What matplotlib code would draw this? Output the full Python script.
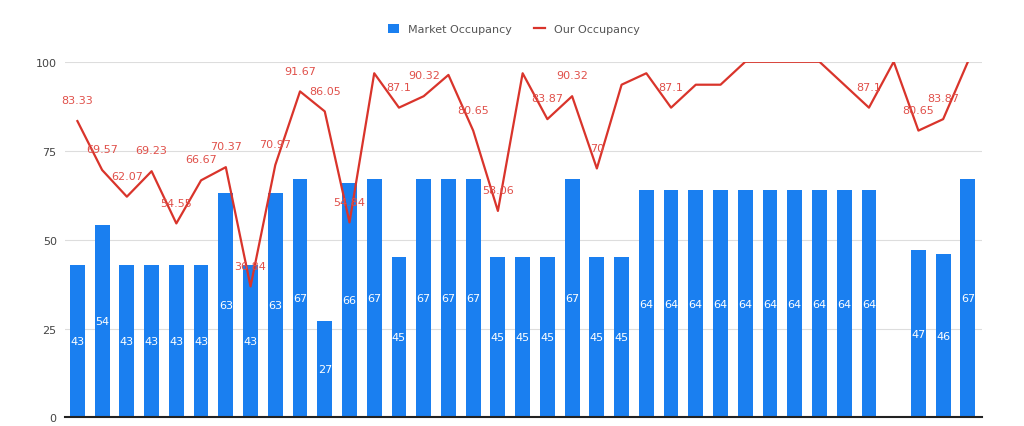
import numpy as np
import matplotlib
matplotlib.use('Agg')
import matplotlib.pyplot as plt

# data (37 periods, one without market data)
market = [43, 54, 43, 43, 43, 43, 63, 43, 63, 67, 27, 66, 67, 45, 67, 67, 67,
          45, 45, 45, 67, 45, 45, 64, 64, 64, 64, 64, 64, 64, 64, 64, 64,
          np.nan, 47, 46, 67]
ours = [83.33, 69.57, 62.07, 69.23, 54.55, 66.67, 70.37, 36.84, 70.97, 91.67,
        86.05, 54.84, 96.77, 87.1, 90.32, 96.3, 80.65, 58.06, 96.77, 83.87,
        90.32, 70, 93.55, 96.77, 87.1, 93.55, 93.55, 100, 100, 100, 100, 93.55,
        87.1, 100, 80.65, 83.87, 100]
# which line values carry a visible label
ours_labelled = [1, 1, 1, 1, 1, 1, 1, 1, 1, 1, 1, 1, 0, 1, 1, 0, 1, 1, 0, 1,
                 1, 1, 0, 0, 1, 0, 0, 0, 0, 0, 0, 0, 1, 0, 1, 1, 0]

blue = '#1a7ff0'
red = '#d9342b'

fig = plt.figure(figsize=(10.24, 4.27), dpi=100)
ax = fig.add_axes([0.0635, 0.02, 0.895, 0.833])

x = np.arange(len(market))
bars = ax.bar(x, market, width=0.6, color=blue, label='Market Occupancy', zorder=2)
for xi, v in zip(x, market):
    if not np.isnan(v):
        ax.text(xi, v / 2, '%d' % v, color='white', ha='center', va='center',
                fontsize=8, zorder=4)

line, = ax.plot(x, ours, color=red, lw=1.6, label='Our Occupancy', zorder=3)
for xi, v, show in zip(x, ours, ours_labelled):
    if show:
        ax.annotate('%g' % v, (xi, v), xytext=(0, 15), textcoords='offset points',
                    ha='center', va='center', fontsize=8, color='#e0504a', zorder=4)

ax.set_xlim(-0.5, len(market) - 0.45)
ax.set_ylim(0, 100)
ax.set_yticks([0, 25, 50, 75, 100])
ax.set_xticks([])
ax.tick_params(axis='y', length=0, labelsize=8, labelcolor='#444444', pad=6)
ax.grid(axis='y', color='#dddddd', lw=0.8, zorder=0)
for s in ['top', 'right', 'left']:
    ax.spines[s].set_visible(False)
ax.spines['bottom'].set_color('#222222')
ax.spines['bottom'].set_linewidth(1.5)

leg = fig.legend([bars, line], ['Market Occupancy', 'Our Occupancy'],
                 loc='center', bbox_to_anchor=(0.502, 0.93), ncol=2, frameon=False,
                 fontsize=8, handlelength=1.0, handleheight=1.0, columnspacing=2.0)
for t in leg.get_texts():
    t.set_color('#555555')

fig.savefig('out.png', dpi=100, facecolor='white')
